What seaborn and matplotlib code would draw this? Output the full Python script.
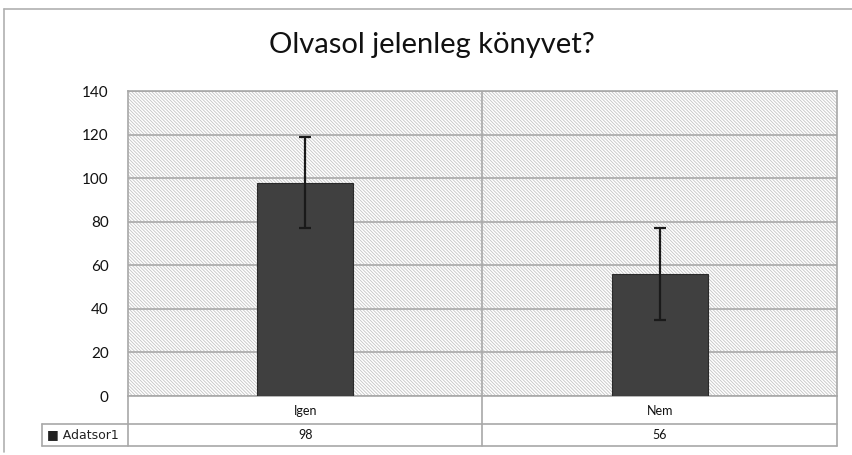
import matplotlib
matplotlib.use("Agg")
import matplotlib.pyplot as plt
import seaborn as sns
import pandas as pd
from matplotlib.patches import Rectangle
from matplotlib.lines import Line2D

categories = ["Igen", "Nem"]
values = [98, 56]
errors = [21, 21]
series_name = "Adatsor1"
title = "Olvasol jelenleg könyvet?"
yticks = [0, 20, 40, 60, 80, 100, 120, 140]

sns.set_theme(style="white")
plt.rcParams["font.family"] = ["Lato", "DejaVu Sans"]
plt.rcParams["hatch.linewidth"] = 0.6

W, H = 853, 455
fig = plt.figure(figsize=(W / 100, H / 100), dpi=100)
fig.patch.set_facecolor("white")
L, R, T, B = 128, 837, 91, 396
ax = fig.add_axes([L / W, 1 - B / H, (R - L) / W, (B - T) / H])

df = pd.DataFrame({"cat": categories, "val": values})
ax.add_patch(Rectangle((0, 0), 1, 1, transform=ax.transAxes, facecolor="white",
                       edgecolor="#c4c4c4", hatch="\\" * 10, lw=0, zorder=0))
sns.barplot(data=df, x="cat", y="val", color="#404040", width=0.27,
            saturation=1, ax=ax, zorder=3, edgecolor="#2a2a2a", linewidth=0.8)
ax.errorbar(range(len(categories)), values, yerr=errors, fmt="none",
            ecolor="#1a1a1a", elinewidth=1.6, capsize=4, capthick=1.6, zorder=4)

ax.set_ylim(0, 140)
ax.set_xlim(-0.5, 1.5)
ax.set_yticks(yticks)
ax.set_yticklabels([str(t) for t in yticks], fontsize=11, color="#111111")
ax.tick_params(axis="y", length=0, pad=14)
ax.set_xticks([])
ax.set_xlabel("")
ax.set_ylabel("")
for y in yticks:
    ax.axhline(y, color="#a8a8a8", lw=1.2, zorder=1)
ax.axvline(0.5, color="#a8a8a8", lw=1.2, zorder=1)
for s in ax.spines.values():
    s.set_color("#a8a8a8")
    s.set_linewidth(1.2)

fig.text(0.506, 1 - 45 / H, title, ha="center", va="center", fontsize=21, color="#111111")

# data table below the axes
def fx(px):
    return px / W

def fy(py):
    return 1 - py / H

lc = "#a8a8a8"
r1t, r1b, r2b = 396, 424, 446
legL = 42
mid = (L + R) / 2
lines = [
    ((L, R), (r1b, r1b)),
    ((legL, R), (r2b, r2b)),
    ((legL, L), (r1b, r1b)),
    ((legL, legL), (r1b, r2b)),
    ((L, L), (r1t, r2b)),
    ((R, R), (r1t, r2b)),
    ((mid, mid), (r1t, r2b)),
]
for xs, ys in lines:
    fig.add_artist(Line2D([fx(xs[0]), fx(xs[1])], [fy(ys[0]), fy(ys[1])], color=lc, lw=1.2))

centers = [(L + mid) / 2, (mid + R) / 2]
for c, cat, v in zip(centers, categories, values):
    fig.text(fx(c), fy((r1t + r1b) / 2 + 1), cat, ha="center", va="center", fontsize=9, color="#111111")
    fig.text(fx(c), fy((r1b + r2b) / 2), str(v), ha="center", va="center", fontsize=9, color="#111111")
fig.text(fx(legL + 5), fy((r1b + r2b) / 2), "\u25a0 " + series_name, ha="left", va="center",
         fontsize=9, color="#222222", family=["DejaVu Sans"])

# outer frame (left and top edges visible)
fig.add_artist(Line2D([fx(4.5), fx(4.5)], [fy(452), fy(9)], color="#b0b0b0", lw=1.2))
fig.add_artist(Line2D([fx(4.5), fx(853)], [fy(9), fy(9)], color="#b0b0b0", lw=1.2))

fig.savefig("out.png", dpi=100)
